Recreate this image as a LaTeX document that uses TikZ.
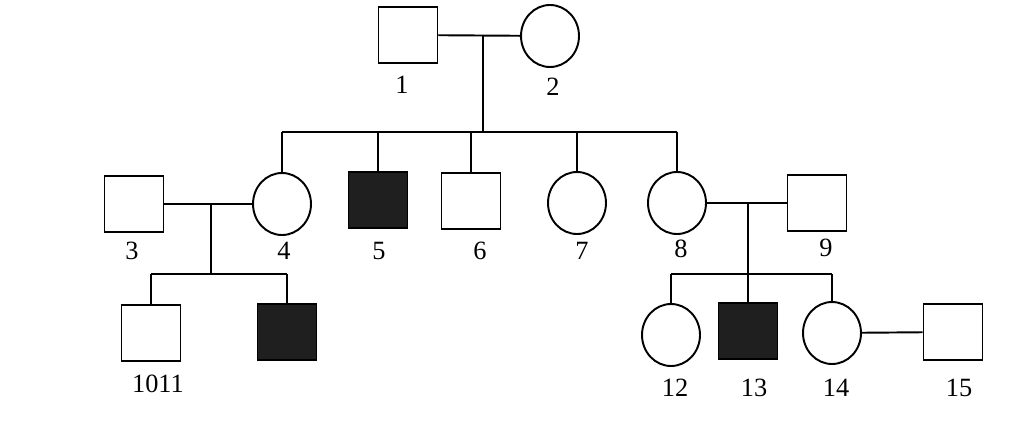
\documentclass[tikz,border=0pt]{standalone}
\usepackage{fontspec}
\setmainfont{Liberation Serif}
\usetikzlibrary{shapes.geometric}
\begin{document}
\begin{tikzpicture}[x=0.02cm, y=-0.02cm, line width=1.1pt,
  male/.style={rectangle, draw, minimum width=1.18cm, minimum height=1.12cm, inner sep=0pt},
  female/.style={ellipse, draw, minimum width=1.16cm, minimum height=1.24cm, inner sep=0pt},
  ill/.style={fill=black!88},
  num/.style={font=\fontsize{15}{18}\selectfont, inner sep=0pt}]
\useasboundingbox (0,0) rectangle (1024,439);
\node[male] (p1) at (408,35){};
\node[female] (p2) at (550,36){};
\node[num] (l1) at (402,85){1};
\node[num] (l2) at (553,87){2};
\coordinate (c12) at (483,35);
\coordinate (s12) at (483,132);
\draw[](p1) -- (p2);
\draw[](c12) -- (s12);
\node[male] (p3) at (134,204){};
\node[female] (p4) at (282,204){};
\node[male, ill] (p5) at (378,200){};
\node[male] (p6) at (471,201){};
\node[female] (p7) at (577,203){};
\node[female] (p8) at (677,203){};
\node[male] (p9) at (817,203){};
\node[num] (l3) at (132,251){3};
\node[num] (l4) at (284,251){4};
\node[num] (l5) at (379,251){5};
\node[num] (l6) at (480,251){6};
\node[num] (l7) at (582,251){7};
\node[num] (l8) at (681,249){8};
\node[num] (l9) at (826,248){9};
\coordinate (b4) at (282,132);
\coordinate (b5) at (378,132);
\coordinate (b6) at (471,132);
\coordinate (b7) at (577,132);
\coordinate (b8) at (677,132);
\draw[](b4) -- (b8);
\draw[](b4) -- (p4.north);
\draw[](b5) -- (p5.north);
\draw[](b6) -- (p6.north);
\draw[](b7) -- (p7.north);
\draw[](b8) -- (p8.north);
\node[male] (p10) at (151,333){};
\node[male, ill] (p11) at (287,332){};
\node[num] (l10) at (158,384){1011};
\coordinate (c34) at (211,204);
\coordinate (s34) at (211,274);
\coordinate (b10) at (151,274);
\coordinate (b11) at (287,274);
\draw[](p3) -- (p4);
\draw[](c34) -- (s34);
\draw[](b10) -- (b11);
\draw[](b10) -- (p10.north);
\draw[](b11) -- (p11.north);
\node[female] (p12) at (671,335){};
\node[male, ill] (p13) at (748,331){};
\node[female] (p14) at (832,333){};
\node[male] (p15) at (953,332){};
\node[num] (l12) at (675,388){12};
\node[num] (l13) at (754,388){13};
\node[num] (l14) at (836,388){14};
\node[num] (l15) at (959,388){15};
\coordinate (c89) at (748,203);
\coordinate (s89) at (748,274);
\coordinate (b12) at (671,274);
\coordinate (b14) at (832,274);
\draw[](p8) -- (p9);
\draw[](c89) -- (p13.north);
\draw[](b12) -- (b14);
\draw[](b12) -- (p12.north);
\draw[](b14) -- (p14.north);
\draw[](p14) -- (p15);
\end{tikzpicture}
\end{document}
